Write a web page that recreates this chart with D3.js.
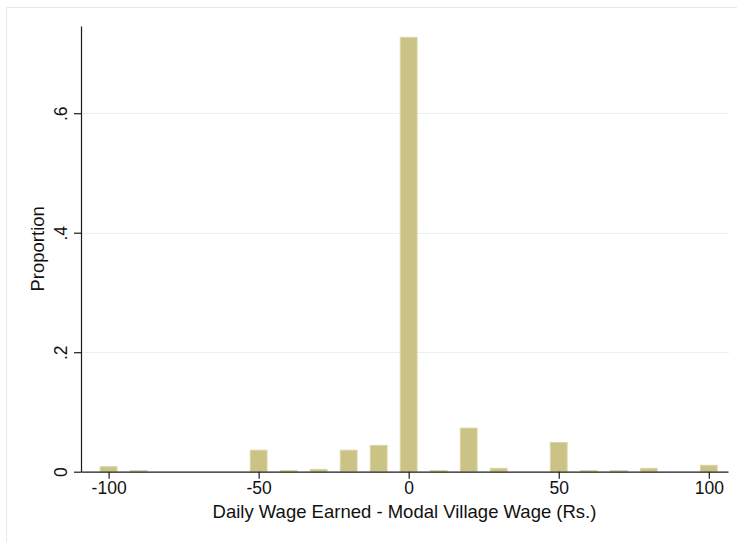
<!DOCTYPE html>
<html>
<head>
<meta charset="utf-8">
<script src="https://cdn.jsdelivr.net/npm/d3@7"></script>
<style>
  html, body { margin: 0; padding: 0; background: #ffffff; }
  svg { display: block; font-family: "Liberation Sans", Arial, Helvetica, sans-serif; }
</style>
</head>
<body>
<svg id="chart" width="737" height="542"></svg>
<script>
// Wage gap bins (Rs.) and share of workers in each bin
const wageGaps = [-100, -90, -50, -40, -30, -20, -10, 0, 10, 20, 30, 50, 60, 70, 80, 100];
const proportions = [0.0084, 0.002, 0.036, 0.002, 0.004, 0.036, 0.044, 0.727, 0.002, 0.073, 0.0057, 0.049, 0.002, 0.002, 0.0057, 0.0107];
const xTicks = [-100, -50, 0, 50, 100];
const xTickLabels = ["-100", "-50", "0", "50", "100"];
const yTicks = [0, 0.2, 0.4, 0.6];
const yTickLabels = ["0", ".2", ".4", ".6"];
const xTitle = "Daily Wage Earned - Modal Village Wage (Rs.)";
const yTitle = "Proportion";

const svg = d3.select("#chart");
const plot = { left: 81, right: 728, top: 26, bottom: 471.7 };

const x = d3.scaleLinear().domain([-109.2, 106.4]).range([plot.left, plot.right]);
const y = d3.scaleLinear().domain([0, 0.746]).range([plot.bottom, plot.top]);
const barWidth = 5.6; // in data units

// outer graph frame
svg.append("rect")
  .attr("x", 6.5).attr("y", 7.5)
  .attr("width", 760).attr("height", 560)
  .attr("fill", "#ffffff")
  .attr("stroke", "#e6eaea").attr("stroke-width", 1);

// horizontal gridlines
svg.append("g")
  .selectAll("line")
  .data(yTicks.filter(d => d > 0))
  .join("line")
  .attr("x1", plot.left).attr("x2", plot.right + 1)
  .attr("y1", d => Math.round(y(d)) + 0.5).attr("y2", d => Math.round(y(d)) + 0.5)
  .attr("stroke", "#e8f0f1").attr("stroke-width", 1);

// histogram bars
svg.append("g")
  .selectAll("rect")
  .data(wageGaps.map((g, i) => ({ g, p: proportions[i] })))
  .join("rect")
  .attr("x", d => x(d.g - barWidth / 2))
  .attr("width", d => x(d.g + barWidth / 2) - x(d.g - barWidth / 2))
  .attr("y", d => y(d.p))
  .attr("height", d => y(0) - y(d.p))
  .attr("fill", "#cbc385")
  .attr("stroke", "#dcd6a6")
  .attr("stroke-width", 1);

// x axis
const xAxis = d3.axisBottom(x)
  .tickValues(xTicks)
  .tickFormat((d, i) => xTickLabels[i])
  .tickSize(7)
  .tickSizeOuter(0)
  .tickPadding(3);
const gx = svg.append("g")
  .attr("transform", `translate(0,${plot.bottom})`)
  .call(xAxis);
gx.select(".domain").attr("stroke", "#1a1a1a").attr("stroke-width", 1.2);
gx.selectAll(".tick line").attr("stroke", "#1a1a1a").attr("stroke-width", 1.2);
gx.selectAll(".tick text")
  .attr("fill", "#111")
  .style("font-size", "17.5px")
  .style("font-family", "'Liberation Sans', Arial, sans-serif");

// y axis
const yAxis = d3.axisLeft(y)
  .tickValues(yTicks)
  .tickFormat((d, i) => yTickLabels[i])
  .tickSize(7)
  .tickSizeOuter(0);
const gy = svg.append("g")
  .attr("transform", `translate(${plot.left},0)`)
  .call(yAxis);
gy.select(".domain").attr("stroke", "#1a1a1a").attr("stroke-width", 1.2);
gy.selectAll(".tick line").attr("stroke", "#1a1a1a").attr("stroke-width", 1.2);
gy.selectAll(".tick text")
  .attr("fill", "#111")
  .attr("x", 0).attr("y", 0).attr("dy", null)
  .attr("text-anchor", "middle")
  .attr("transform", "translate(-14,0) rotate(-90)")
  .style("font-size", "17.5px")
  .style("font-family", "'Liberation Sans', Arial, sans-serif");

// axis titles
svg.append("text")
  .attr("x", (plot.left + plot.right) / 2)
  .attr("y", 517.7)
  .attr("text-anchor", "middle")
  .attr("fill", "#111")
  .style("font-size", "18.5px")
  .text(xTitle);

svg.append("text")
  .attr("transform", `translate(44,${(plot.top + plot.bottom) / 2}) rotate(-90)`)
  .attr("text-anchor", "middle")
  .attr("fill", "#111")
  .style("font-size", "18.5px")
  .text(yTitle);
</script>
</body>
</html>
